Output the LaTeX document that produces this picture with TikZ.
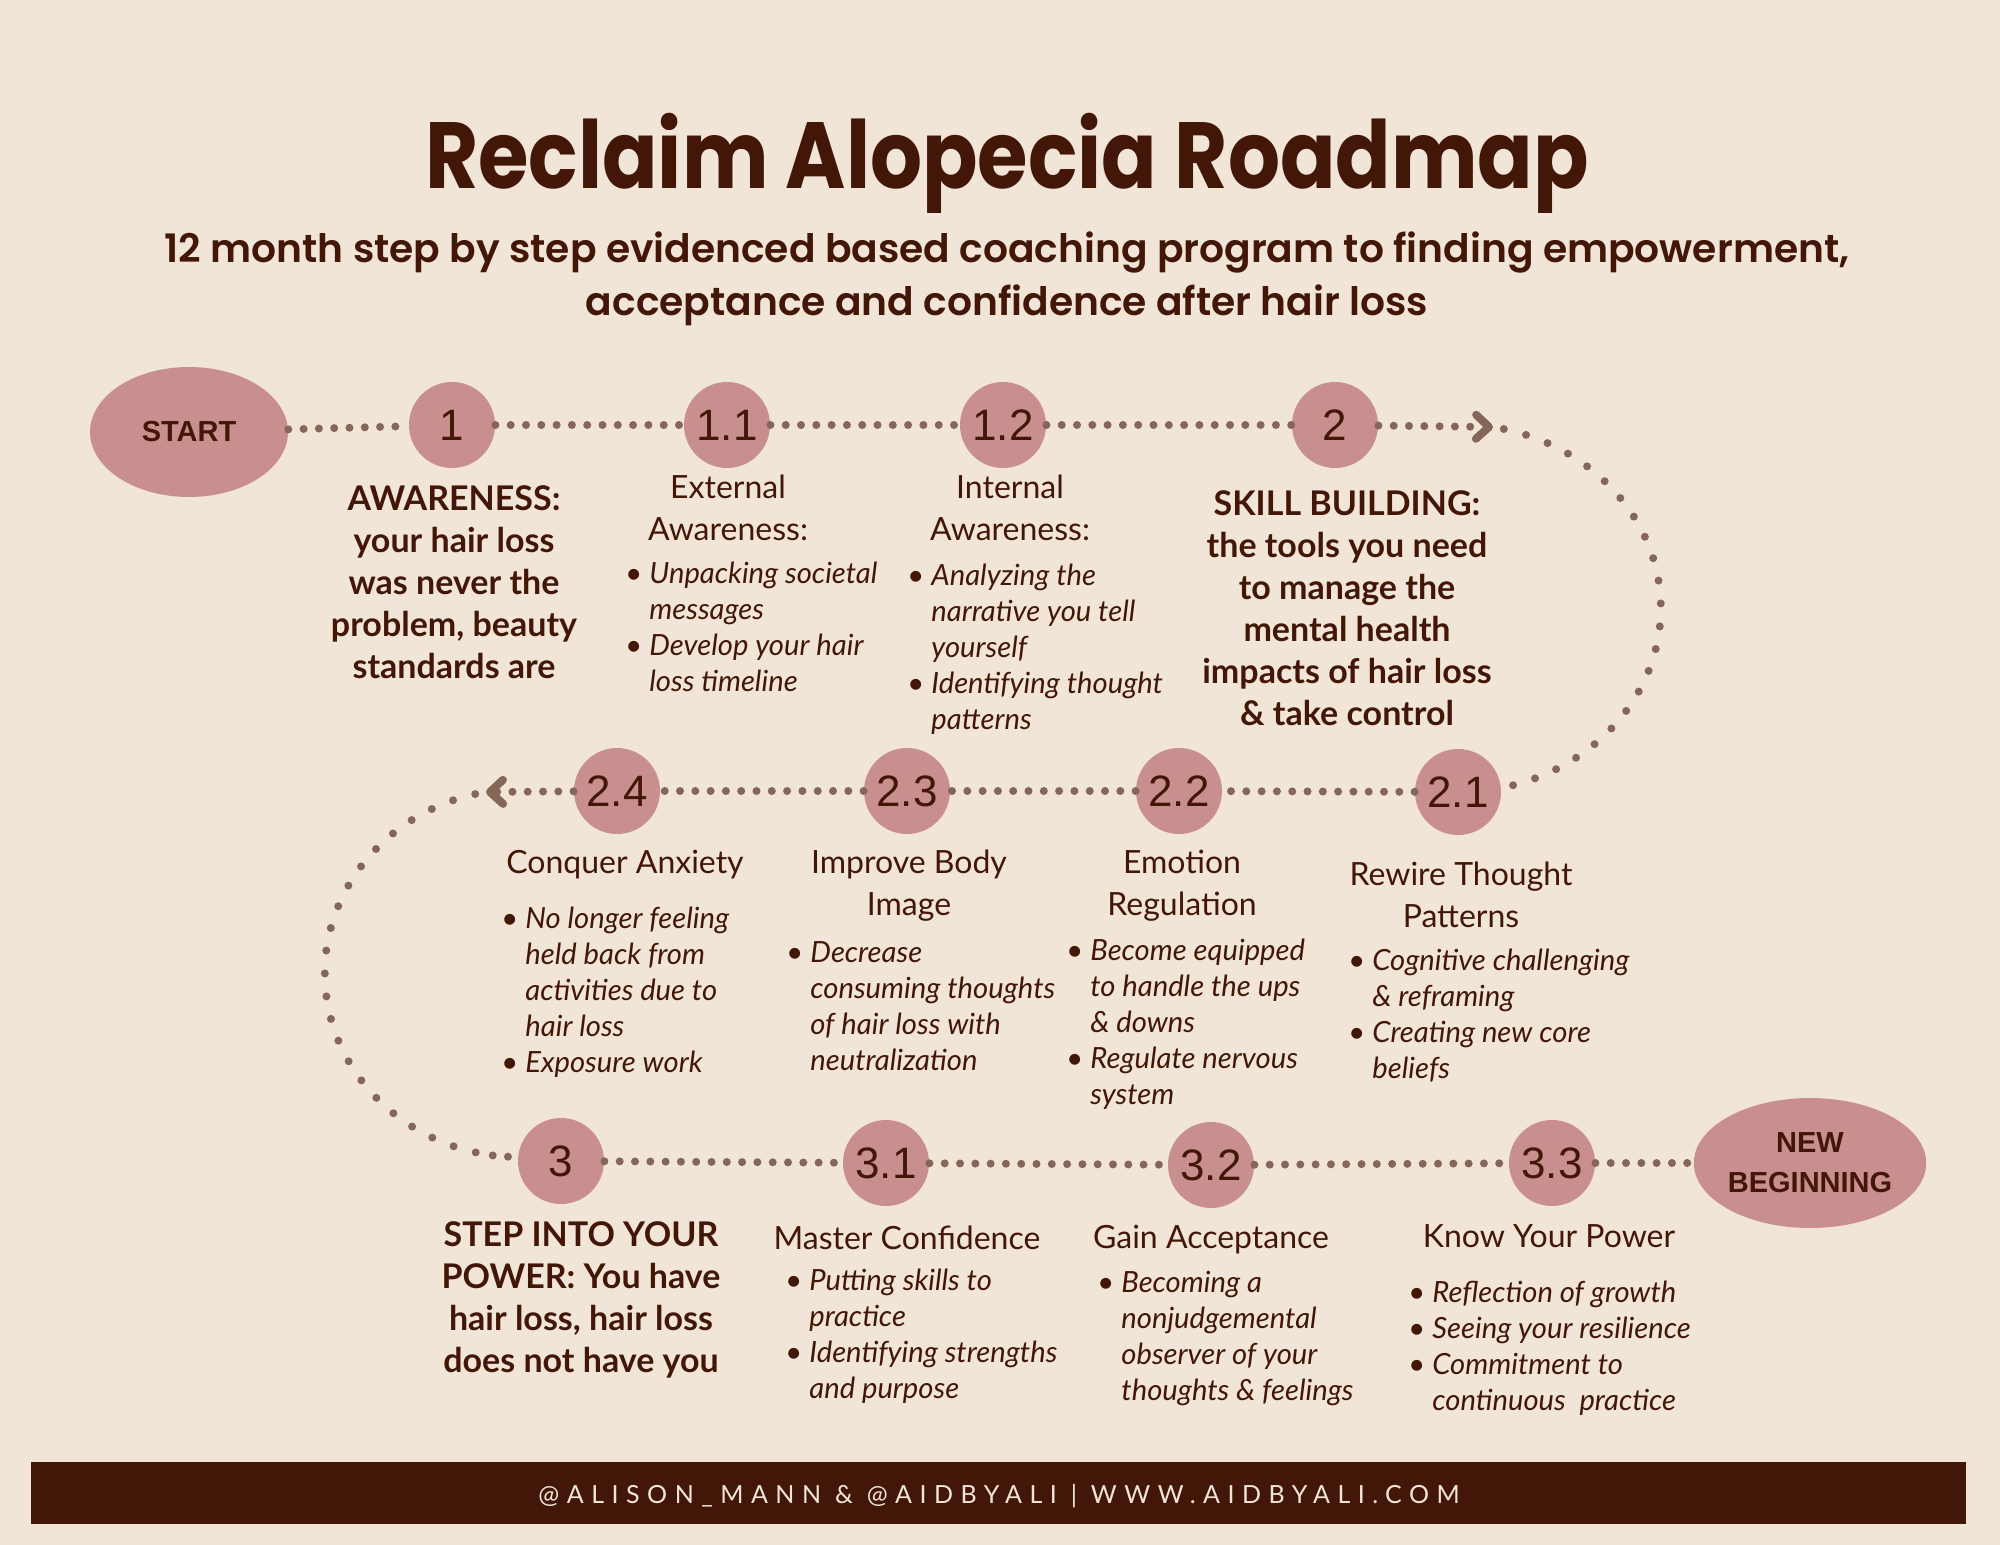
\documentclass[tikz,border=0pt]{standalone}
\usepackage{fontspec}
\setmainfont{Lato}
\newfontfamily\numfont{Liberation Sans}
\newfontfamily\titlefont{Poppins}[FakeStretch=0.87]
\newfontfamily\subfont{Poppins SemiBold}
\newfontfamily\footfont{Lato}[LetterSpace=30]
\usetikzlibrary{positioning,arrows.meta,shapes.geometric}
\definecolor{paper}{HTML}{F1E5D8}
\definecolor{rose}{HTML}{C98F8F}
\definecolor{ink}{HTML}{431708}
\definecolor{trailcol}{HTML}{85675A}
\newcommand\centred[1]{\begin{tabular}[t]{@{}c@{}}#1\end{tabular}}
\newcommand\points[1]{\begin{tabular}[t]{@{}l@{}l@{}}#1\end{tabular}}
\newcommand\bul{\makebox[9.5pt][l]{\hspace{-2.5pt}\textbullet}&}

\begin{document}
\begin{tikzpicture}[x=0.5pt,y=-0.5pt,
  stepdot/.style={circle,fill=rose,minimum size=43pt,inner sep=0pt,text=ink,font=\numfont\fontsize{22}{22}\selectfont},
  endcap/.style={ellipse,fill=rose,minimum width=99pt,minimum height=65pt,inner sep=0pt,text=ink,align=center,font=\numfont\bfseries\fontsize{14.5}{20}\selectfont},
  trail/.style={draw=trailcol,line width=4pt,line cap=round,dash pattern=on 0pt off 7.65pt},
  bendtrail/.style={trail,dash pattern=on 0pt off 11.5pt,dash phase=6pt},
  chevron/.style={-{Straight Barb[length=6.5pt,width=12pt,round]}},
  lbl/.style={anchor=base,inner sep=0pt,text=ink,font=\bfseries\fontsize{17}{21}\selectfont},
  heading/.style={anchor=base,inner sep=0pt,text=ink,font=\fontsize{16}{21}\selectfont},
  pointlist/.style={anchor=base west,inner sep=0pt,text=ink,font=\itshape\fontsize{14.6}{18}\selectfont}]
\useasboundingbox (0,0) rectangle (2000,1545);
\fill[paper] (0,0) rectangle (2000,1545);

\node[anchor=base,inner sep=0pt,text=ink,font=\titlefont\bfseries\fontsize{47}{50}\selectfont] (title) at (1007,189) {Reclaim Alopecia Roadmap};
\node[anchor=base,inner sep=0pt,text=ink,font=\subfont\fontsize{19.6}{26.5}\selectfont] (subtitle) at (1007,263)
  {\centred{12 month step by step evidenced based coaching program to finding empowerment,\\acceptance and confidence after hair loss}};

\node[endcap] (start) at (189,432) {START};
\node[stepdot] (s1) at (452,425) {1};
\node[stepdot] (s11) at (727,425) {1.1};
\node[stepdot] (s12) at (1003,425) {1.2};
\node[stepdot] (s2) at (1335,425) {2};
\node[stepdot] (s21) at (1458,792) {2.1};
\node[stepdot] (s22) at (1179,791) {2.2};
\node[stepdot] (s23) at (907,791) {2.3};
\node[stepdot] (s24) at (617,791) {2.4};
\node[stepdot] (s3) at (561,1161) {3};
\node[stepdot] (s31) at (886,1163) {3.1};
\node[stepdot] (s32) at (1211,1165) {3.2};
\node[stepdot] (s33) at (1552,1163) {3.3};
\node[endcap] (finish) at (1810,1163) {NEW\\BEGINNING};
\coordinate (turnA) at (1493,427);
\coordinate (turnB) at (486,792);

\draw[trail,chevron] (start) -- (s1) -- (s11) -- (s12) -- (s2) -- (turnA);
\draw[bendtrail] (turnA) arc[start angle=80,end angle=-76,x radius=101.5pt,y radius=92pt] -- (s21);
\draw[trail,chevron] (s21) -- (s22) -- (s23) -- (s24) -- (turnB);
\draw[bendtrail] (turnB) arc[start angle=100,end angle=262,x radius=97.5pt,y radius=92pt] coordinate (lowB);
\draw[trail] (lowB) -- (s3) -- (s31) -- (s32) -- (s33) -- (finish);

\node[lbl] (awareText) at (454,510) {\centred{AWARENESS:\\your hair loss\\was never the\\problem, beauty\\standards are}};
\node[heading] (extHead) at (728,498) {\centred{External\\Awareness:}};
\node[pointlist] (extList) at (630,583) {\points{\bul Unpacking societal\\ & messages\\ \bul Develop your hair\\ & loss timeline}};
\node[heading] (intHead) at (1010,498) {\centred{Internal\\Awareness:}};
\node[pointlist] (intList) at (912,585) {\points{\bul Analyzing the\\ & narrative you tell\\ & yourself\\ \bul Identifying thought\\ & patterns}};
\node[lbl] (skillText) at (1347,515) {\centred{SKILL BUILDING:\\the tools you need\\to manage the\\mental health\\impacts of hair loss\\\& take control}};

\node[heading] (rewireHead) at (1461,885) {\centred{Rewire Thought\\Patterns}};
\node[pointlist] (rewireList) at (1353,970) {\points{\bul Cognitive challenging\\ & \& reframing\\ \bul Creating new core\\ & beliefs}};
\node[heading] (emoHead) at (1182,873) {\centred{Emotion\\Regulation}};
\node[pointlist] (emoList) at (1071,960) {\points{\bul Become equipped\\ & to handle the ups\\ & \& downs\\ \bul Regulate nervous\\ & system}};
\node[heading] (bodyHead) at (909,873) {\centred{Improve Body\\Image}};
\node[pointlist] (bodyList) at (791,962) {\points{\bul Decrease\\ & consuming thoughts\\ & of hair loss with\\ & neutralization}};
\node[heading] (anxHead) at (625,873) {Conquer Anxiety};
\node[pointlist] (anxList) at (506,928) {\points{\bul No longer feeling\\ & held back from\\ & activities due to\\ & hair loss\\ \bul Exposure work}};

\node[lbl] (powerText) at (581,1246) {\centred{STEP INTO YOUR\\POWER: You have\\hair loss, hair loss\\does not have you}};
\node[heading] (confHead) at (907,1249) {Master Confidence};
\node[pointlist] (confList) at (790,1290) {\points{\bul Putting skills to\\ & practice\\ \bul Identifying strengths\\ & and purpose}};
\node[heading] (accHead) at (1211,1248) {Gain Acceptance};
\node[pointlist] (accList) at (1102,1292) {\points{\bul Becoming a\\ & nonjudgemental\\ & observer of your\\ & thoughts \& feelings}};
\node[heading] (knowHead) at (1549,1247) {Know Your Power};
\node[pointlist] (knowList) at (1413,1302) {\points{\bul Reflection of growth\\ \bul Seeing your resilience\\ \bul Commitment to\\ & continuous~ practice}};

\fill[ink] (31,1462) rectangle (1966,1524);
\node[anchor=base,inner sep=0pt,text=paper,font=\footfont\fontsize{12.5}{15}\selectfont] (credits) at (999,1503) {@ALISON\_MANN \& @AIDBYALI | WWW.AIDBYALI.COM};
\end{tikzpicture}
\end{document}
